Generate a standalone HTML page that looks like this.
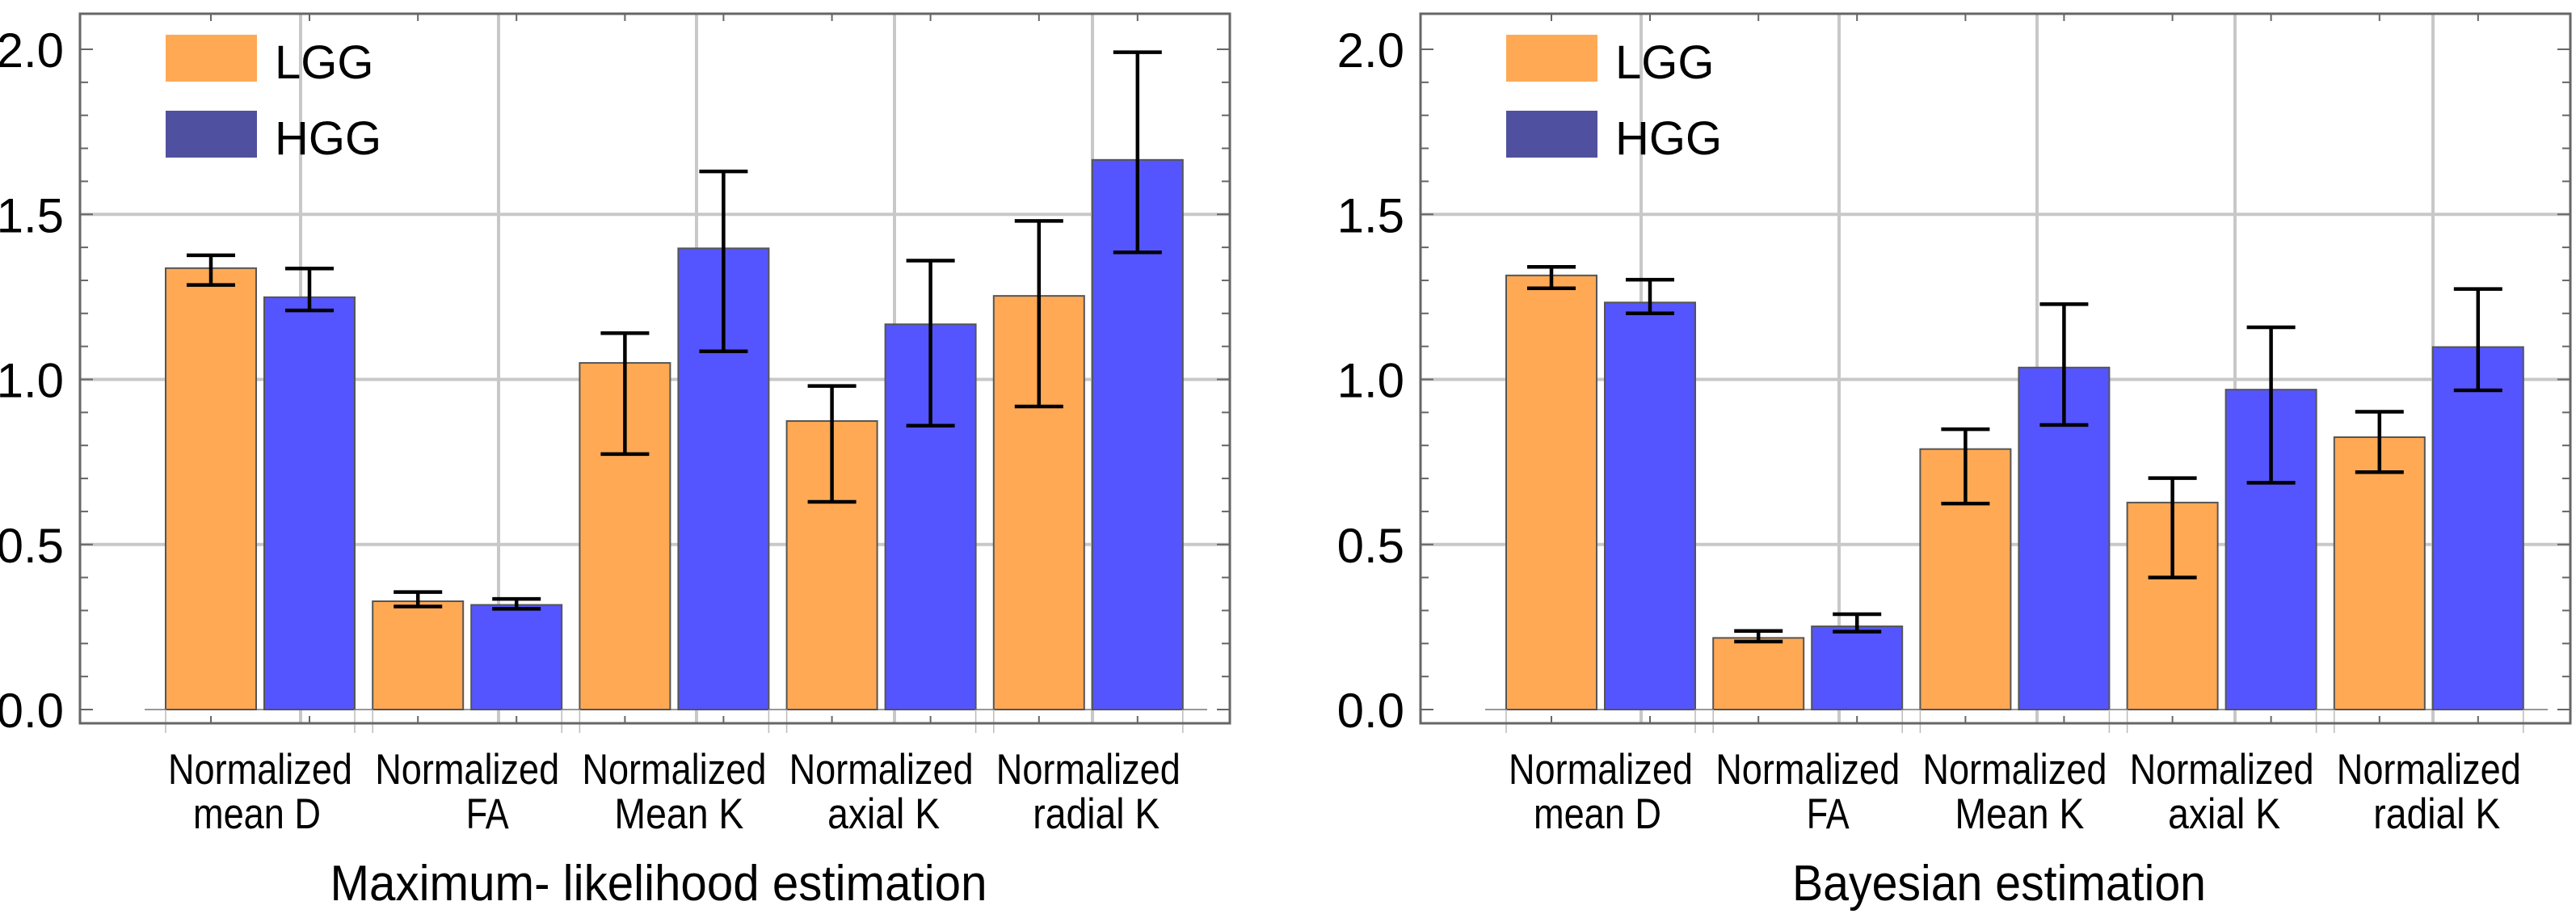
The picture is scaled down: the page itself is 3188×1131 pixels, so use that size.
<!DOCTYPE html>
<html><head><meta charset="utf-8"><style>
html,body{margin:0;padding:0;background:#fff;}
svg{display:block;font-family:"Liberation Sans",sans-serif;}
</style></head><body>
<svg id="chart" width="3188" height="1131" viewBox="0 0 3188 1131" xmlns="http://www.w3.org/2000/svg"></svg>
<script>
const categories = [["Normalized","mean D"],["Normalized","FA"],["Normalized","Mean K"],["Normalized","axial K"],["Normalized","radial K"]];
const seriesNames = ["LGG","HGG"];
const yTicks = [0,0.5,1.0,1.5,2.0];
const yTickLabels = ["0.0","0.5","1.0","1.5","2.0"];
const panelTitles = ["Maximum- likelihood estimation","Bayesian estimation"];
const mleLGG = [1.337,0.328,1.050,0.874,1.253];
const mleLGGlo = [1.286,0.312,0.774,0.629,0.918];
const mleLGGhi = [1.376,0.356,1.140,0.980,1.480];
const mleHGG = [1.249,0.317,1.397,1.167,1.665];
const mleHGGlo = [1.209,0.305,1.085,0.860,1.385];
const mleHGGhi = [1.336,0.335,1.630,1.360,1.991];
const bayLGG = [1.315,0.217,0.789,0.627,0.825];
const bayLGGlo = [1.276,0.206,0.624,0.400,0.719];
const bayLGGhi = [1.341,0.238,0.849,0.701,0.902];
const bayHGG = [1.233,0.252,1.036,0.969,1.098];
const bayHGGlo = [1.200,0.236,0.862,0.687,0.967];
const bayHGGhi = [1.302,0.289,1.228,1.158,1.274];

const svg = document.getElementById('chart');
const NS = 'http://www.w3.org/2000/svg';
function mk(tag, attrs, parent){
  const e = document.createElementNS(NS, tag);
  for (const k in attrs) e.setAttribute(k, attrs[k]);
  (parent||svg).appendChild(e);
  return e;
}
const TOP=17, BOT=895, Y0=878, Y2=61;
const W=1423;
const line2Width = [158,53,160,139,157];
const line2Shift = [-4,25,6,3,10];
function yScale(v){ return Y0 - v*(Y0-Y2)/2; }
const colors = ["#FFA955","#5555FF"];
const legendColors = ["#FFA955","#5050A0"];

function panel(L, idx, data){
  const g = mk('g', {});
  
  
  const xOf = (c, s) => L + 106 + c*256.2 + s*122;
  for (let i=0;i<5;i++){
    const gx = L + 273 + i*245;
    const ln = mk('line', {x1:gx,x2:gx,y1:TOP,y2:BOT,stroke:'#c8c8c8','stroke-width':4}, g);
    
    
  }
  [0.5,1.0,1.5].forEach(v=>{
    const ln = mk('line', {x1:L,x2:L+W,y1:yScale(v),y2:yScale(v),stroke:'#c8c8c8','stroke-width':4}, g);
    
    
  });
  const bl = mk('line', {x1:L+80,x2:L+1395,y1:Y0,y2:Y0,stroke:'#999','stroke-width':2}, g);
  
  
  for (let c=0;c<categories.length;c++){
    for (let s=0;s<2;s++){
      const v = data[s][0][c], lo = data[s][1][c], hi = data[s][2][c];
      const x = xOf(c,s);
      const r = mk('rect', {x:x,y:yScale(v),width:112,height:Y0-yScale(v),fill:colors[s],stroke:'#555','stroke-width':2}, g);
      
      
      const cx = x + 56;
      const eb = mk('g', {stroke:'#000','stroke-width':4.5}, g);
      
      
      mk('line', {x1:cx,x2:cx,y1:yScale(hi),y2:yScale(lo)}, eb);
      mk('line', {x1:cx-30,x2:cx+30,y1:yScale(hi),y2:yScale(hi)}, eb);
      mk('line', {x1:cx-30,x2:cx+30,y1:yScale(lo),y2:yScale(lo)}, eb);
      mk('line', {x1:cx,x2:cx,y1:BOT,y2:BOT-9,stroke:'#666','stroke-width':2}, g);
      mk('line', {x1:cx,x2:cx,y1:TOP,y2:TOP+9,stroke:'#666','stroke-width':2}, g);
    }
    const gl = xOf(c,0), gr = xOf(c,1)+112;
    mk('line', {x1:gl,x2:gl,y1:Y0,y2:BOT+12,stroke:'#bbb','stroke-width':1.5}, g);
    mk('line', {x1:gr,x2:gr,y1:Y0,y2:BOT+12,stroke:'#bbb','stroke-width':1.5}, g);
    const lc = (gl+gr)/2;
    const t1 = mk('text', {x:lc,y:970,'font-size':53,'text-anchor':'middle',fill:'#000',textLength:228,lengthAdjust:'spacingAndGlyphs'}, g);
    t1.textContent = categories[c][0];
    
    
    const t2 = mk('text', {x:lc + line2Shift[c],y:1025,'font-size':53,'text-anchor':'middle',fill:'#000',textLength:line2Width[c],lengthAdjust:'spacingAndGlyphs'}, g);
    t2.textContent = categories[c][1];
    
    
  }
  const fr = mk('rect', {x:L,y:TOP,width:W,height:BOT-TOP,fill:'none',stroke:'#666','stroke-width':3}, g);
  
  
  for (let k=0;k<=20;k++){
    const v = k/10, y = yScale(v), len = (k%5===0)?16:10;
    mk('line', {x1:L,x2:L+len,y1:y,y2:y,stroke:'#666','stroke-width':2}, g);
    mk('line', {x1:L+W,x2:L+W-len,y1:y,y2:y,stroke:'#666','stroke-width':2}, g);
  }
  yTicks.forEach((v,i)=>{
    const t = mk('text', {x:L-20,y:yScale(v)+22,'font-size':60,'text-anchor':'end',fill:'#000'}, g);
    t.textContent = yTickLabels[i];
    
    
  });
  for (let s=0;s<2;s++){
    const ly = 43 + s*94;
    const sw = mk('rect', {x:L+106,y:ly,width:113,height:58,fill:legendColors[s]}, g);
    
    
    const lt = mk('text', {x:L+241,y:ly+54,'font-size':58,fill:'#000'}, g);
    lt.textContent = seriesNames[s];
    
    
  }
  const tw = idx===0 ? 813 : 512;
  const tt = mk('text', {x:L+716,y:1114,'font-size':62,'text-anchor':'middle',fill:'#000',textLength:tw,lengthAdjust:'spacingAndGlyphs'}, g);
  tt.textContent = panelTitles[idx];
  
  
}
panel(99, 0, [[mleLGG,mleLGGlo,mleLGGhi],[mleHGG,mleHGGlo,mleHGGhi]]);
panel(1758, 1, [[bayLGG,bayLGGlo,bayLGGhi],[bayHGG,bayHGGlo,bayHGGhi]]);
</script>
</body></html>
